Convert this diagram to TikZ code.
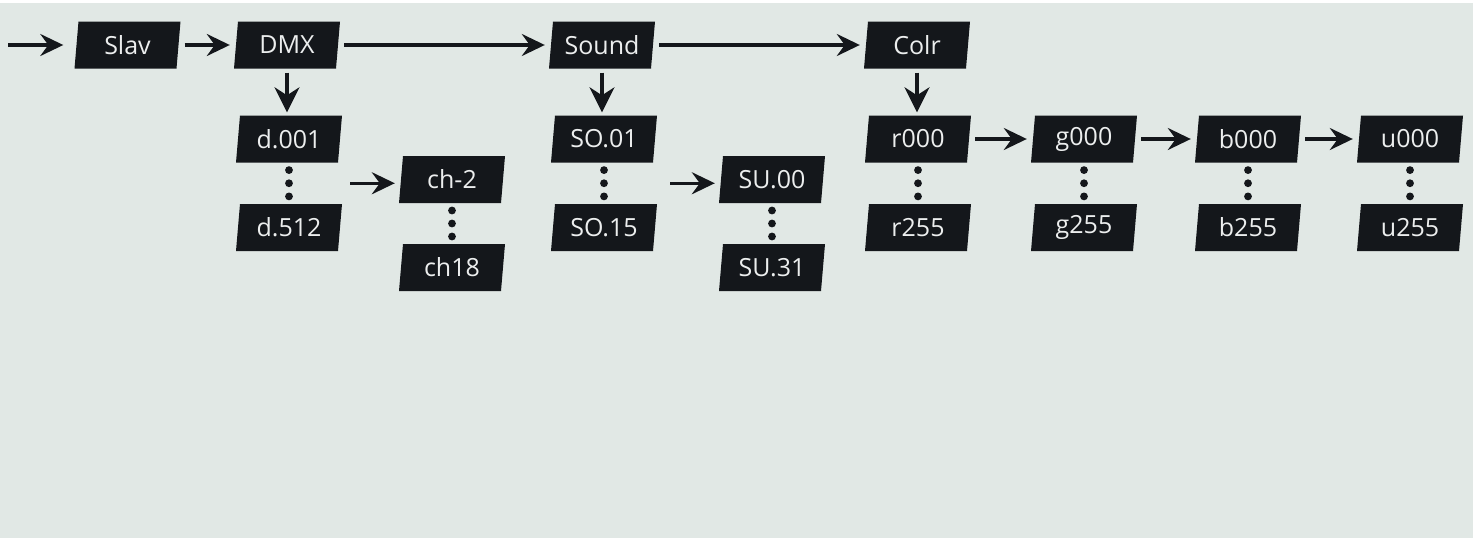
\documentclass[tikz,border=0pt]{standalone}
\usepackage{fontspec}
\setmainfont{Open Sans}
\usetikzlibrary{arrows.meta,calc}
\definecolor{bg}{RGB}{225,232,229}
\definecolor{boxc}{RGB}{20,23,27}
\definecolor{txt}{RGB}{236,238,238}
\tikzset{
  boxtext/.style={minimum width=102pt,minimum height=47pt,inner sep=0pt,text=txt,font=\fontsize{25}{25}\selectfont},
  conn/.style={line width=3.3pt,draw=boxc,-{Stealth[length=23pt,width=22pt,inset=8pt]},shorten <=6pt,shorten >=6pt},
  vconn/.style={conn,-{Stealth[length=25pt,width=25pt,inset=8pt]},shorten <=4pt,shorten >=3pt},
  dot/.style={fill=boxc}
}
\newcommand\pbox[4]{%
  \fill[boxc] ({#2-49},{#3-23.5}) -- ({#2+53},{#3-23.5}) -- ({#2+49},{#3+23.5}) -- ({#2-53},{#3+23.5}) -- cycle;
  \node[boxtext] (#1) at (#2,#3) {#4};}
\newcommand\vdotsbetween[2]{%
  \foreach \t in {0.18,0.5,0.82} {\fill[boxc] ($(#1.south)!\t!(#2.north)$) circle (3.9pt);}}
\begin{document}
\begin{tikzpicture}[x=1pt,y=-1pt]
\useasboundingbox (0,0) rectangle (1479,538);
\fill[white] (0,0) rectangle (1479,538);
\fill[bg] (0,3) rectangle (1473,538);
\pbox{slav}{127.5}{45}{Slav}
\pbox{dmx}{287}{45}{DMX}
\pbox{sound}{602}{45}{Sound}
\pbox{colr}{917}{45}{Colr}
\pbox{d1}{289}{139}{d.001}
\pbox{d2}{289}{227.5}{d.512}
\pbox{ch1}{452}{179.5}{ch-2}
\pbox{ch2}{452}{267.5}{ch18}
\pbox{so1}{604}{139}{SO.01}
\pbox{so2}{604}{227.5}{SO.15}
\pbox{su1}{772}{179.5}{SU.00}
\pbox{su2}{772}{267.5}{SU.31}
\pbox{r1}{918}{139}{r000}
\pbox{r2}{918}{227.5}{r255}
\pbox{g1}{1084}{139}{g000}
\pbox{g2}{1084}{227.5}{g255}
\pbox{b1}{1248}{139}{b000}
\pbox{b2}{1248}{227.5}{b255}
\pbox{u1}{1410}{139}{u000}
\pbox{u2}{1410}{227.5}{u255}
\coordinate (in) at (8,45);
\draw[conn,shorten <=0pt,shorten >=13pt] (in) -- (slav.west);
\draw[conn] (slav) -- (dmx);
\draw[conn] (dmx) -- (sound);
\draw[conn] (sound) -- (colr);
\draw[vconn] (dmx.south) -- (dmx.south |- d1.north);
\draw[vconn] (sound.south) -- (sound.south |- so1.north);
\draw[vconn] (colr.south) -- (colr.south |- r1.north);
\coordinate (dch) at ($(d1.east)!0.5!(d2.east)$);
\draw[conn,shorten <=10pt] (dch) -- (dch -| ch1.west);
\coordinate (sos) at ($(so1.east)!0.5!(so2.east)$);
\draw[conn,shorten <=15pt] (sos) -- (sos -| su1.west);
\draw[conn] (r1) -- (g1);
\draw[conn] (g1) -- (b1);
\draw[conn] (b1) -- (u1);
\vdotsbetween{d1}{d2}
\vdotsbetween{ch1}{ch2}
\vdotsbetween{so1}{so2}
\vdotsbetween{su1}{su2}
\vdotsbetween{r1}{r2}
\vdotsbetween{g1}{g2}
\vdotsbetween{b1}{b2}
\vdotsbetween{u1}{u2}
\end{tikzpicture}
\end{document}
